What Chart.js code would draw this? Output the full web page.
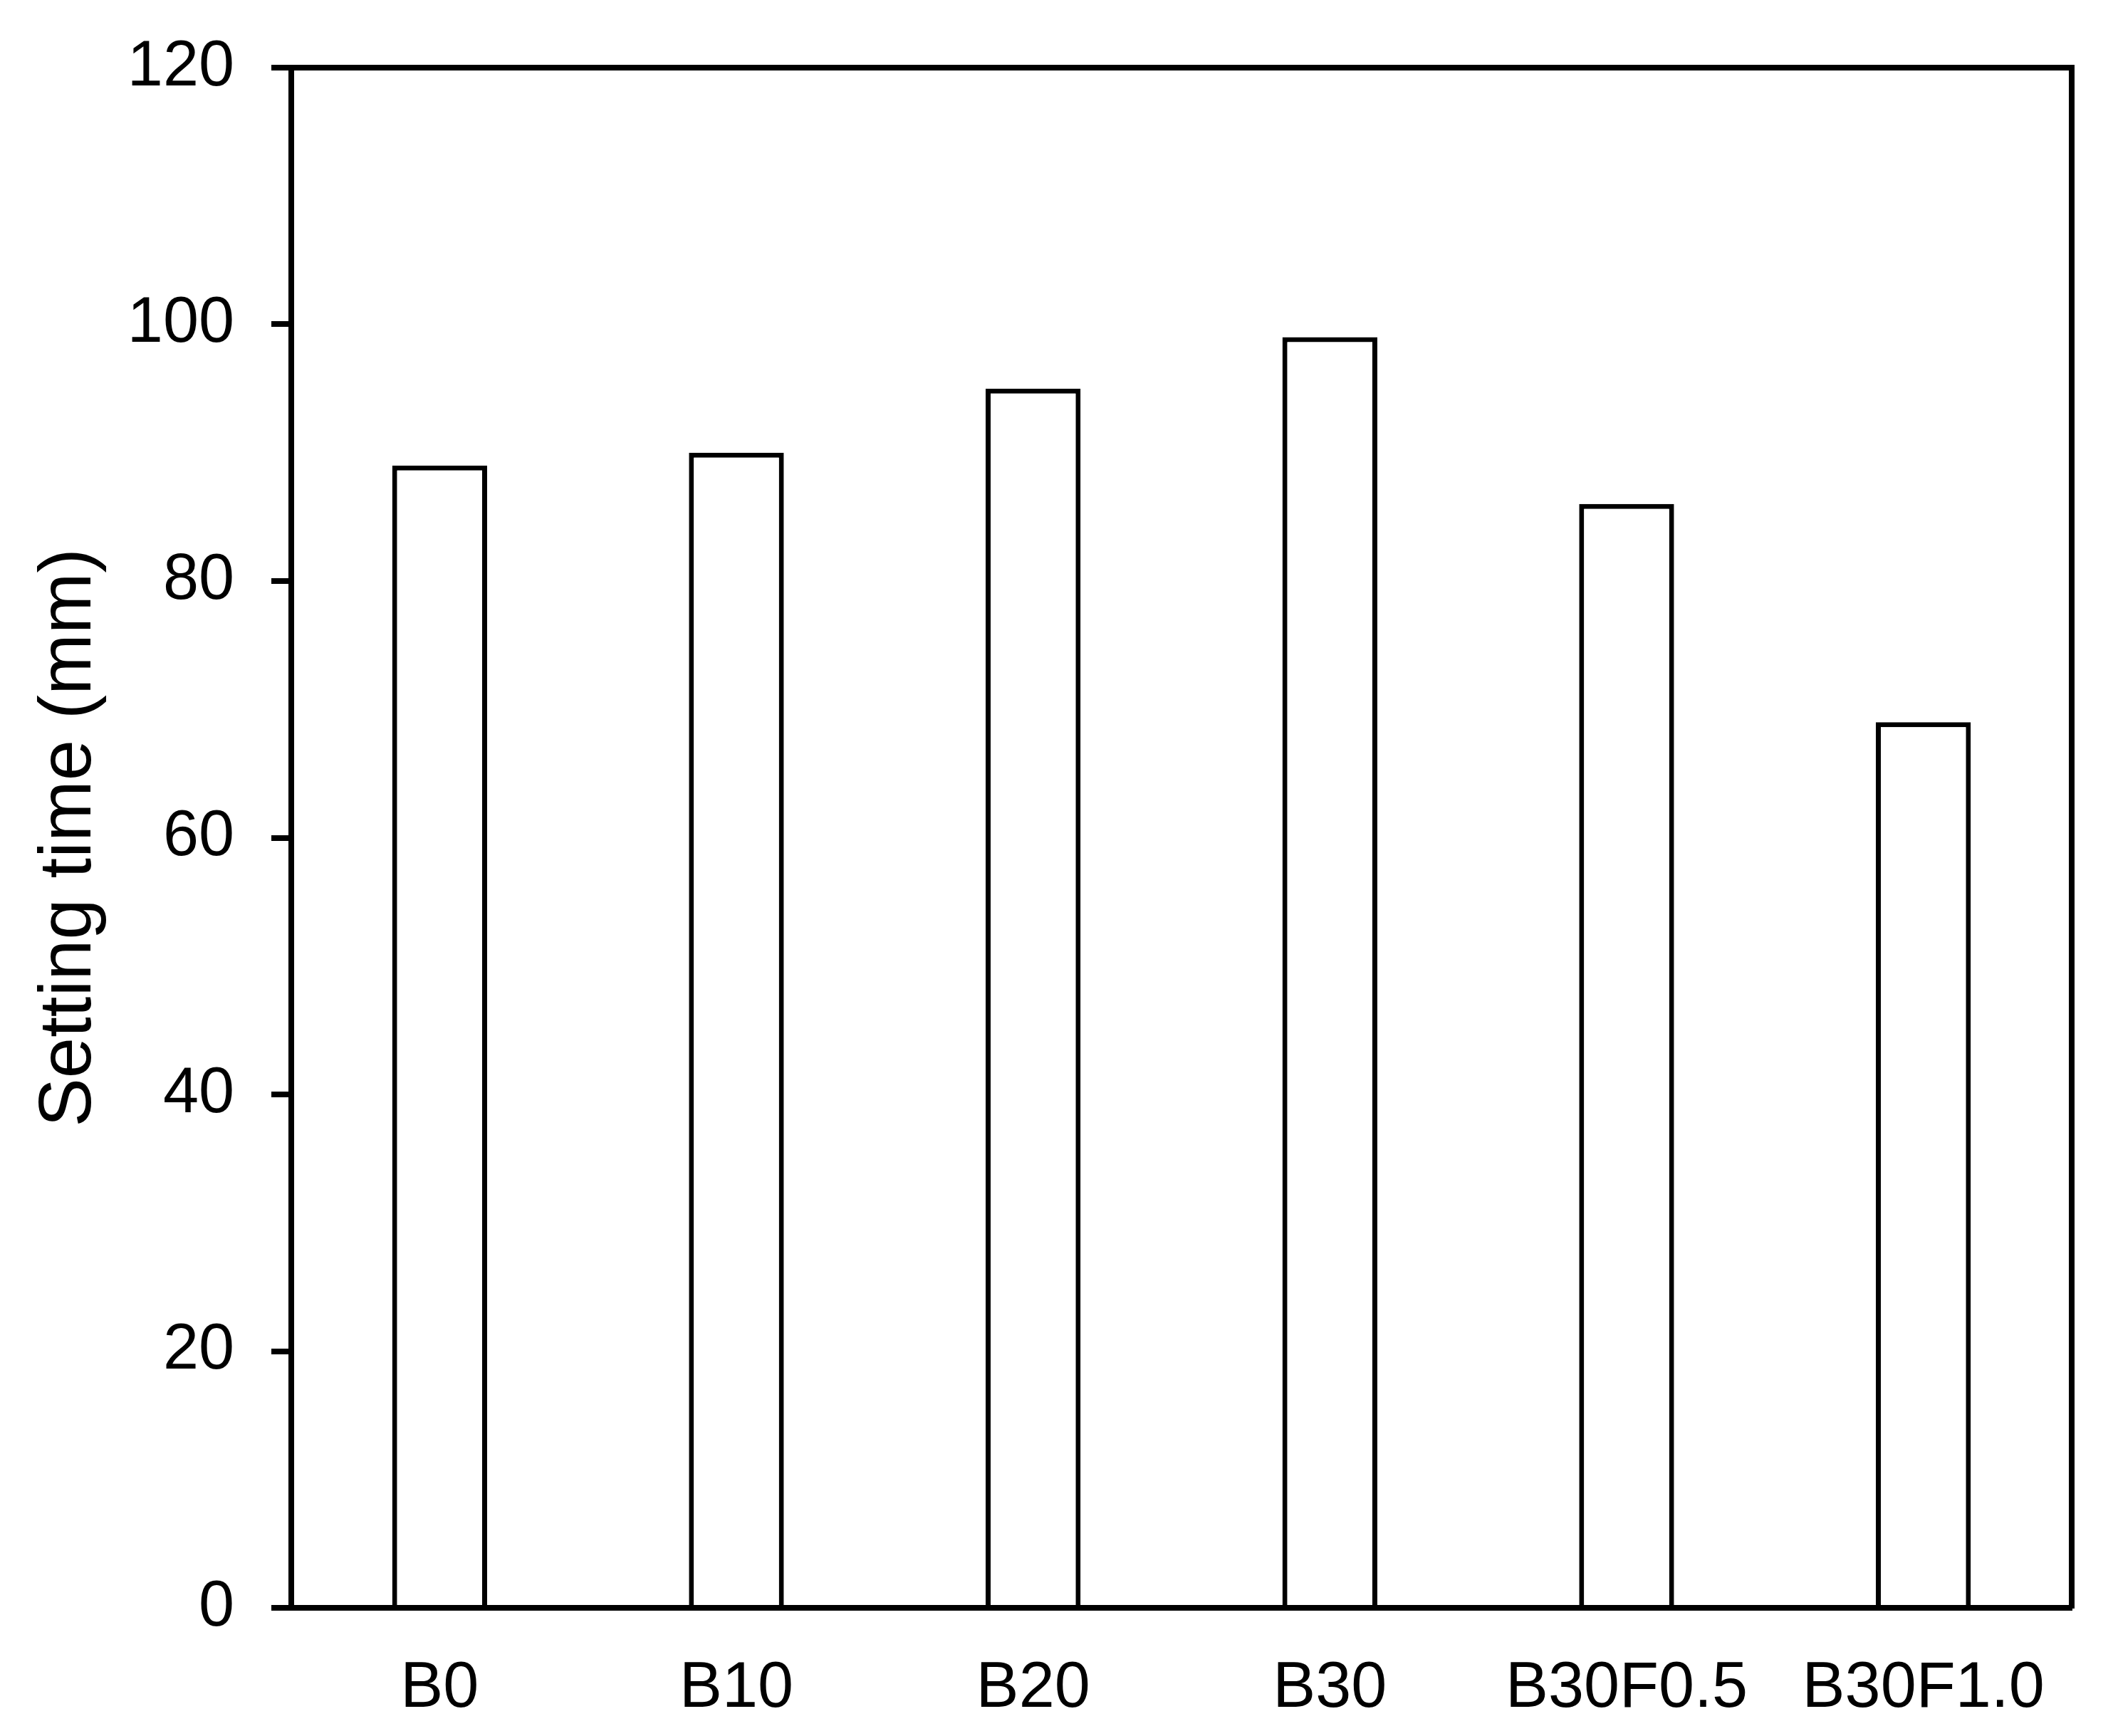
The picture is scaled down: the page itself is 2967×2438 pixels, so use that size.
<!DOCTYPE html>
<html>
<head>
<meta charset="utf-8">
<script src="https://cdn.jsdelivr.net/npm/chart.js@4/dist/chart.umd.min.js"></script>
<style>
html,body{margin:0;padding:0;background:#fff;}
#wrap{width:2967px;height:2438px;}
</style>
</head>
<body>
<div id="wrap"><canvas id="c" width="2967" height="2438"></canvas></div>
<script>
const categories = ['B0', 'B10', 'B20', 'B30', 'B30F0.5', 'B30F1.0'];
const settingTime = [89, 90, 95, 99, 86, 69];
const yTickValues = [0, 20, 40, 60, 80, 100, 120];
const yTitle = 'Setting time (mm)';

const FONT = '"Liberation Sans", Arial, sans-serif';
const BLACK = '#000000';

new Chart(document.getElementById('c'), {
  type: 'bar',
  data: {
    labels: categories,
    datasets: [{
      data: settingTime,
      backgroundColor: '#ffffff',
      borderColor: BLACK,
      borderWidth: 7,
      categoryPercentage: 1,
      barPercentage: 0.32,
      xAxisID: 'x',
      yAxisID: 'y'
    }]
  },
  options: {
    responsive: false,
    animation: false,
    devicePixelRatio: 1,
    layout: { padding: { top: 95, right: 58, bottom: 0, left: 0 } },
    plugins: { legend: { display: false }, tooltip: { enabled: false } },
    scales: {
      x: {
        type: 'category',
        position: 'bottom',
        offset: true,
        grid: { display: false, drawTicks: false, tickLength: 0 },
        border: { display: true, color: BLACK, width: 8 },
        ticks: { color: BLACK, font: { family: FONT, size: 90 }, padding: 60, maxRotation: 0, autoSkip: false },
        afterFit(s) { s.height = 180; }
      },
      y: {
        type: 'linear',
        position: 'left',
        min: yTickValues[0],
        max: yTickValues[yTickValues.length - 1],
        ticks: { stepSize: yTickValues[1] - yTickValues[0], color: BLACK, font: { family: FONT, size: 90 }, padding: 52 },
        grid: { display: true, drawOnChartArea: false, drawTicks: true, tickLength: 28, color: BLACK, lineWidth: 8 },
        border: { display: true, color: BLACK, width: 8 },
        title: { display: true, text: yTitle, color: BLACK, font: { family: FONT, size: 103 }, padding: { top: 37, bottom: 0 } },
        afterFit(s) { s.width = 409; s.paddingTop = 0; s.paddingBottom = 0; }
      },
      x2: {
        type: 'linear',
        position: 'top',
        display: true,
        ticks: { display: false },
        grid: { display: false, drawTicks: false },
        border: { display: true, color: BLACK, width: 8 },
        afterFit(s) { s.height = 0; }
      },
      y2: {
        type: 'linear',
        position: 'right',
        display: true,
        ticks: { display: false },
        grid: { display: false, drawTicks: false },
        border: { display: true, color: BLACK, width: 8 },
        afterFit(s) { s.width = 0; }
      }
    }
  }
});
</script>
</body>
</html>
